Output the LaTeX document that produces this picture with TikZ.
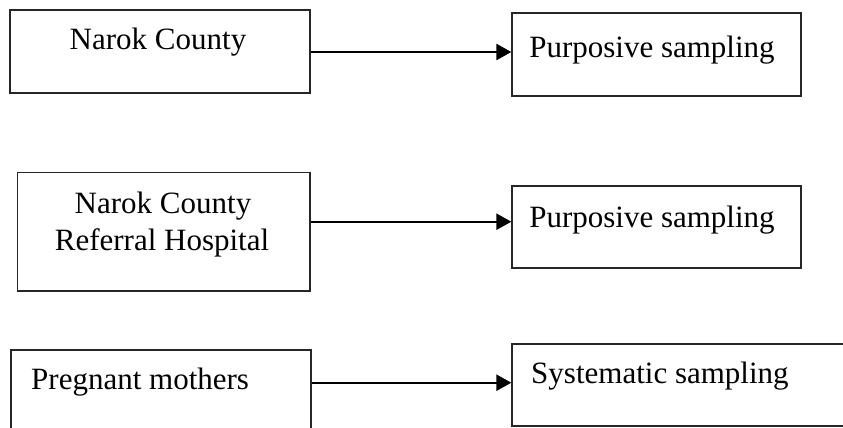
\documentclass[tikz,border=0pt]{standalone}
\usepackage{fontspec}
\setmainfont{Liberation Serif}
\usetikzlibrary{arrows.meta}
\begin{document}
\begin{tikzpicture}[x=1pt,y=-1pt,
  box/.style={draw=black!85,line width=1.3pt,rectangle,inner sep=0pt},
  txt/.style={inner sep=0pt,font=\fontsize{31}{37}\selectfont},
  arr/.style={line width=2.4pt,-{Triangle[length=15pt,width=16pt]}}]
\useasboundingbox (0,0) rectangle (843,428);
% boxes
\node[box,minimum width=300pt,minimum height=83pt] (A1) at (160,51.5) {};
\node[box,minimum width=289pt,minimum height=83pt] (R1) at (656.5,54.5) {};
\node[box,minimum width=292.3pt,minimum height=118.3pt] (A2) at (163.85,231.85) {};
\node[box,minimum width=289pt,minimum height=82pt] (R2) at (656.5,227) {};
\node[box,minimum width=300pt,minimum height=95pt] (A3) at (161,397.5) {};
\node[box,minimum width=348pt,minimum height=82pt] (R3) at (686,385) {};
% texts
\node[txt,anchor=base] (t1) at (158,50) {Narok County};
\node[txt,anchor=base] (t2) at (652,58) {Purposive sampling};
\node[txt,anchor=base] (t3a) at (163,213) {Narok County};
\node[txt,anchor=base] (t3b) at (162,250) {Referral Hospital};
\node[txt,anchor=base] (t4) at (652,227) {Purposive sampling};
\node[txt,anchor=base west] (t5) at (31,389) {Pregnant mothers};
\node[txt,anchor=base west] (t6) at (531,383) {Systematic sampling};
% arrow heights
\coordinate (y1) at (0,52);
\coordinate (y2) at (0,221.7);
\coordinate (y3) at (0,382.7);
\draw[arr] (A1.east |- y1) -- (R1.west |- y1);
\draw[arr] (A2.east |- y2) -- (R2.west |- y2);
\draw[arr] (A3.east |- y3) -- (R3.west |- y3);
\end{tikzpicture}
\end{document}
